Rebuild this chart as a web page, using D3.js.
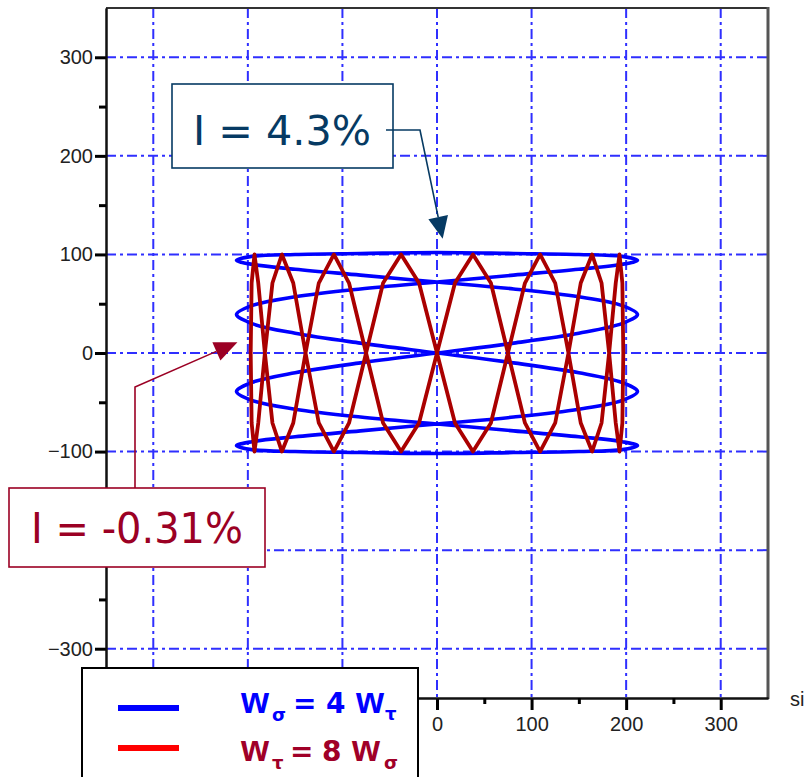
<!DOCTYPE html>
<html>
<head>
<meta charset="utf-8">
<script src="https://cdn.jsdelivr.net/npm/d3@7"></script>
<style>
  html, body { margin: 0; padding: 0; background: #fff; overflow: hidden; }
  svg { display: block; }
</style>
</head>
<body>
<svg id="chart" width="805" height="777"></svg>
<script>
// ---------------- data ----------------
const axisTicks = [-300, -200, -100, 0, 100, 200, 300];
const minorTicks = [-250, -150, -50, 50, 150, 250];
// tick labels that are hidden behind the boxes in the reference
const hiddenYLabels = [-200];
const hiddenXLabels = [-300, -200, -100];

// blue path: w_sigma = 4 w_tau
const blueSigma = [0,81,150,196,212,196,150,81,0,-81,-150,-196,-212,-196,-150,-81,
                   0,81,150,196,212,196,150,81,0,-81,-150,-196,-212,-196,-150,-81,
                   0,81,150,196,212,196,150,81,0,-81,-150,-196,-212,-196,-150,-81,
                   0,81,150,196,212,196,150,81,0,-81,-150,-196,-212,-196,-150,-81];
const blueTau = [102,101,100,98,94,90,85,79,72,65,57,48,39,30,20,10,
                 0,-10,-20,-30,-39,-48,-57,-65,-72,-79,-85,-90,-94,-98,-100,-101,
                 -102,-101,-100,-98,-94,-90,-85,-79,-72,-65,-57,-48,-39,-30,-20,-10,
                 0,10,20,30,39,48,57,65,72,79,85,90,94,98,100,101];

// red path: w_tau = 8 w_sigma
const redSigma = [197,196,193,189,182,174,164,152,139,125,109,93,75,57,38,19,
                  0,-19,-38,-57,-75,-93,-109,-125,-139,-152,-164,-174,-182,-189,-193,-196,
                  -197,-196,-193,-189,-182,-174,-164,-152,-139,-125,-109,-93,-75,-57,-38,-19,
                  0,19,38,57,75,93,109,125,139,152,164,174,182,189,193,196];
const redTau = [0,71,100,71,0,-71,-100,-71, 0,71,100,71,0,-71,-100,-71,
                0,71,100,71,0,-71,-100,-71, 0,71,100,71,0,-71,-100,-71,
                0,71,100,71,0,-71,-100,-71, 0,71,100,71,0,-71,-100,-71,
                0,71,100,71,0,-71,-100,-71, 0,71,100,71,0,-71,-100,-71];

const annoBlueText = "I = 4.3%";
const annoRedText = "I = -0.31%";
const annoBlueTip = [6, 116];     // data coords of arrow tip
const annoRedTip = [-211, 11];

// ---------------- drawing ----------------
const svg = d3.select("#chart");
const L = 106, R = 768, T = 8, B = 698;
const x = d3.scaleLinear().domain([-350, 350]).range([L, R]);
const y = d3.scaleLinear().domain([-350, 350]).range([B, T]);

const gridColor = "#2f2fff";
const grid = svg.append("g");
grid.selectAll("line.v").data(axisTicks).join("line")
  .attr("x1", d => x(d)).attr("x2", d => x(d))
  .attr("y1", T).attr("y2", B)
  .attr("stroke", gridColor).attr("stroke-width", 2)
  .attr("stroke-dasharray", "10,4,3,4");
grid.selectAll("line.h").data(axisTicks).join("line")
  .attr("y1", d => y(d)).attr("y2", d => y(d))
  .attr("x1", L).attr("x2", R)
  .attr("stroke", gridColor).attr("stroke-width", 2)
  .attr("stroke-dasharray", "10,4,3,4");

// curves
const bluePts = blueSigma.map((s, i) => [s, blueTau[i]]);
const redPts = redSigma.map((s, i) => [s, redTau[i]]);
svg.append("path").datum(bluePts)
  .attr("d", d3.line().x(d => x(d[0])).y(d => y(d[1])).curve(d3.curveCatmullRomClosed.alpha(0.5)))
  .attr("fill", "none").attr("stroke", "#0000ff").attr("stroke-width", 3.6)
  .attr("stroke-linejoin", "round");
svg.append("path").datum(redPts)
  .attr("d", d3.line().x(d => x(d[0])).y(d => y(d[1])).curve(d3.curveLinearClosed))
  .attr("fill", "none").attr("stroke", "#aa0000").attr("stroke-width", 3.8)
  .attr("stroke-linejoin", "round");

// frame
svg.append("line").attr("x1", L).attr("x2", R).attr("y1", T).attr("y2", T)
  .attr("stroke", "#333").attr("stroke-width", 2);
svg.append("line").attr("x1", R).attr("x2", R).attr("y1", T - 1).attr("y2", B + 1)
  .attr("stroke", "#555").attr("stroke-width", 3);

// axes
const fontAxis = "'Liberation Sans', Arial, sans-serif";
const fmt = d3.format("");
const yMajor = svg.append("g").attr("transform", `translate(${L},0)`)
  .call(d3.axisLeft(y).tickValues(axisTicks).tickSize(11).tickSizeOuter(0).tickPadding(2)
    .tickFormat(d => hiddenYLabels.includes(d) ? "" : fmt(d)));
const yMinor = svg.append("g").attr("transform", `translate(${L},0)`)
  .call(d3.axisLeft(y).tickValues(minorTicks).tickSize(7).tickSizeOuter(0).tickFormat(""));
const xMajor = svg.append("g").attr("transform", `translate(0,${B})`)
  .call(d3.axisBottom(x).tickValues(axisTicks).tickSize(12).tickSizeOuter(0).tickPadding(7)
    .tickFormat(d => hiddenXLabels.includes(d) ? "" : fmt(d)));
const xMinor = svg.append("g").attr("transform", `translate(0,${B})`)
  .call(d3.axisBottom(x).tickValues(minorTicks).tickSize(6).tickSizeOuter(0).tickFormat(""));
[yMajor, yMinor, xMajor, xMinor].forEach(g => {
  g.select(".domain").attr("stroke", "#111").attr("stroke-width", 2);
  g.selectAll(".tick line").attr("stroke", "#000").attr("stroke-width", 3);
  g.selectAll(".tick text").attr("fill", "#222").style("font-family", fontAxis).style("font-size", "20px");
  g.selectAll(".tick text").filter(function () { return this.textContent === ""; }).remove();
});

svg.append("text").attr("x", 790).attr("y", 706).text("si")
  .attr("fill", "#222").style("font-family", fontAxis).style("font-size", "20px");

// annotation: I = 4.3%
const navy = "#063a63";
svg.append("rect").attr("x", 172).attr("y", 84).attr("width", 221).attr("height", 84)
  .attr("fill", "#fff").attr("stroke", navy).attr("stroke-width", 1.6);
svg.append("text").attr("x", 193).attr("y", 145).text(annoBlueText)
  .attr("fill", navy).attr("textLength", 178).attr("lengthAdjust", "spacingAndGlyphs")
  .style("font-family", "'DejaVu Sans', sans-serif").style("font-size", "41px");

function arrow(points, tip, color, headLen, halfW) {
  const [tx, ty] = [x(tip[0]), y(tip[1])];
  const [px, py] = points[points.length - 1];
  const dx = tx - px, dy = ty - py, len = Math.hypot(dx, dy);
  const ux = dx / len, uy = dy / len;
  const bx = tx - ux * headLen, by = ty - uy * headLen;
  svg.append("path")
    .attr("d", d3.line()([...points, [bx, by]]))
    .attr("fill", "none").attr("stroke", color).attr("stroke-width", 1.6);
  svg.append("path")
    .attr("d", d3.line()([[tx, ty], [bx - uy * halfW, by + ux * halfW], [bx + uy * halfW, by - ux * halfW]]) + "Z")
    .attr("fill", color);
}
arrow([[386, 130], [420, 130]], annoBlueTip, navy, 22, 10);

// annotation: I = -0.31%
const crimson = "#9b0024";
arrow([[135, 489], [135, 387]], annoRedTip, crimson, 23, 10);
svg.append("rect").attr("x", 9).attr("y", 488).attr("width", 256).attr("height", 79)
  .attr("fill", "#fff").attr("stroke", crimson).attr("stroke-width", 1.6);
svg.append("text").attr("x", 31).attr("y", 543).text(annoRedText)
  .attr("fill", crimson).attr("textLength", 212).attr("lengthAdjust", "spacingAndGlyphs")
  .style("font-family", "'DejaVu Sans', sans-serif").style("font-size", "42px");

// legend
svg.append("rect").attr("x", 82).attr("y", 668).attr("width", 336).attr("height", 130)
  .attr("fill", "#fff").attr("stroke", "#000").attr("stroke-width", 2);
svg.append("line").attr("x1", 118).attr("x2", 179).attr("y1", 708).attr("y2", 708)
  .attr("stroke", "#0000ff").attr("stroke-width", 6);
svg.append("line").attr("x1", 118).attr("x2", 179).attr("y1", 748).attr("y2", 748)
  .attr("stroke", "#ff0000").attr("stroke-width", 6);

const wFont = "'Liberation Sans', Arial, sans-serif";
const dFont = "'DejaVu Sans', Verdana, sans-serif";
function legendRow(parts, color) {
  const t = svg.append("text").attr("fill", color).style("font-weight", "bold");
  parts.forEach(p => {
    t.append("tspan").attr("x", p.x).attr("y", p.y).text(p.s)
      .style("font-family", p.f).style("font-size", p.size + "px");
  });
}
legendRow([
  { s: "w", x: 241, y: 713, f: wFont, size: 36 },
  { s: "σ", x: 272, y: 721, f: dFont, size: 18 },
  { s: "=", x: 293, y: 713, f: dFont, size: 28 },
  { s: "4", x: 326, y: 713, f: dFont, size: 28 },
  { s: "w", x: 356, y: 713, f: wFont, size: 36 },
  { s: "τ", x: 385, y: 720, f: dFont, size: 18 }
], "#0000ff");
legendRow([
  { s: "w", x: 241, y: 761, f: wFont, size: 36 },
  { s: "τ", x: 272, y: 769, f: dFont, size: 18 },
  { s: "=", x: 290, y: 761, f: dFont, size: 28 },
  { s: "8", x: 322, y: 761, f: dFont, size: 28 },
  { s: "w", x: 352, y: 761, f: wFont, size: 36 },
  { s: "σ", x: 384, y: 769, f: dFont, size: 18 }
], "#a00028");
</script>
</body>
</html>
